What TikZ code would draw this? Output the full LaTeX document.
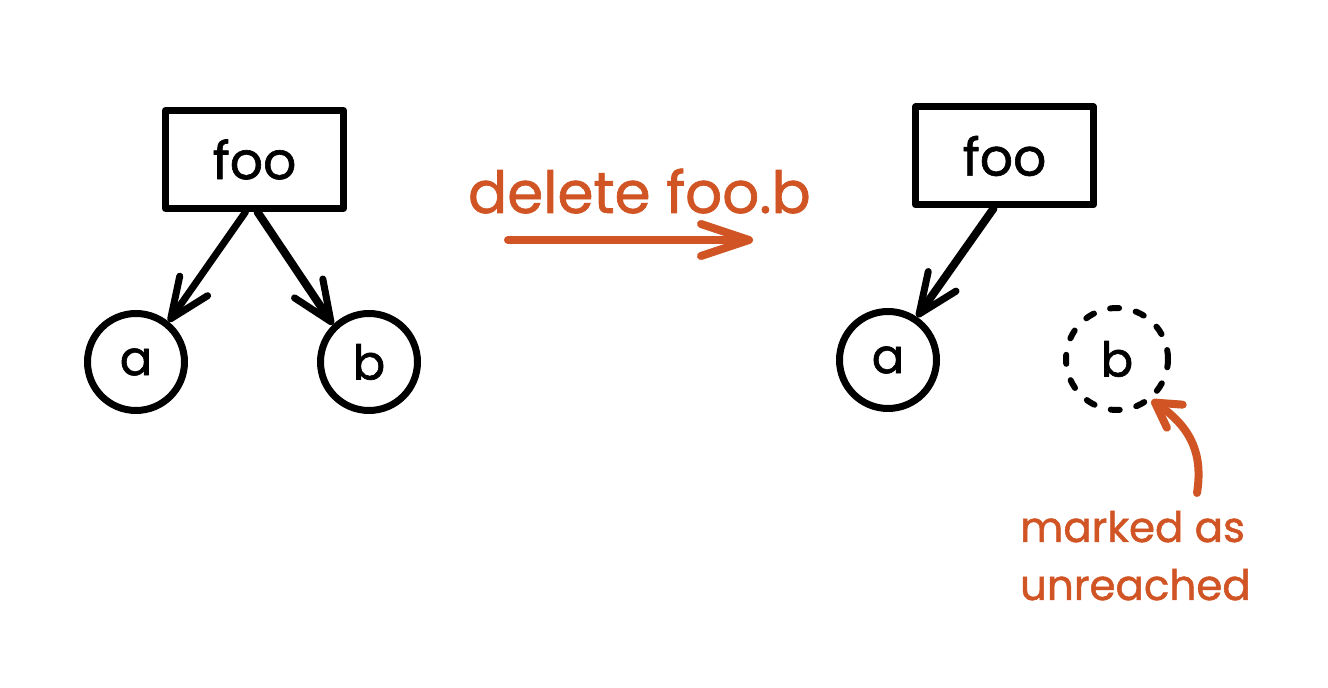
\documentclass[tikz,border=0pt]{standalone}
\usepackage{fontspec}
\setmainfont{Poppins}[BoldFont=Poppins, BoldFeatures={FakeBold=1.2}]
\usetikzlibrary{arrows.meta}
\definecolor{accent}{RGB}{208,84,36}
\begin{document}
\begin{tikzpicture}[x=0.5pt,y=-0.5pt,
  ink/.style={line width=3.5pt, line cap=round, line join=round},
  boxnode/.style={ink, draw, rectangle, minimum width=89pt, minimum height=49pt, inner sep=0pt, font=\fontsize{26}{30}\selectfont\bfseries},
  circnode/.style={ink, draw, circle, minimum size=48.5pt, inner sep=0pt, font=\fontsize{24}{28}\selectfont\bfseries},
  ghost/.style={circnode, line width=3pt, minimum size=51pt, dash pattern=on 4.5pt off 8.5pt},
  link/.style={ink, -{Straight Barb[round,length=20pt,width=17pt,line width=3.5pt]}},
  headline/.style={text=accent, font=\fontsize{29}{34}\selectfont\bfseries},
  note/.style={text=accent, font=\fontsize{21}{28}\selectfont\bfseries},
  bigarrow/.style={accent, line width=4pt, line cap=round, -{Straight Barb[round,length=24pt,width=16pt,line width=4pt]}},
  curvearrow/.style={accent, line width=4pt, line cap=round, -{Straight Barb[round,length=12pt,width=14pt,line width=4pt]}},
]
\useasboundingbox[fill=white] (0,0) rectangle (1328,688);
% left graph
\node[boxnode] (foo1) at (254.5,159.5) {foo};
\node[circnode] (a1) at (136,362) {a};
\node[circnode] (b1) at (369,362) {b};
\draw[link] ([xshift=-4.5pt]foo1.south) -- (a1.51);
\draw[link, line width=4pt] ([xshift=1.5pt]foo1.south) -- (b1.134);
% middle
\node[headline, anchor=base west] (lbl) at (461,213) {delete foo.b};
\coordinate (s) at (508,240);
\coordinate (t) at (753,240);
\draw[bigarrow] (s) -- (t);
% right graph
\node[boxnode] (foo2) at (1004.5,156) {foo};
\node[circnode] (a2) at (888,360) {a};
\node[ghost] (b2) at (1117,359) {b};
\draw[link, line width=4pt] ([xshift=-5.5pt]foo2.south) -- (a2.56);
\coordinate (tail) at (1197,493);
\draw[curvearrow] (tail) .. controls (1203,455) and (1192,428) .. (b2.-50);
\node[note, anchor=base west] (m1) at (1013,542) {marked as};
\node[note, anchor=base west] (m2) at (1013,600) {unreached};
\end{tikzpicture}
\end{document}
